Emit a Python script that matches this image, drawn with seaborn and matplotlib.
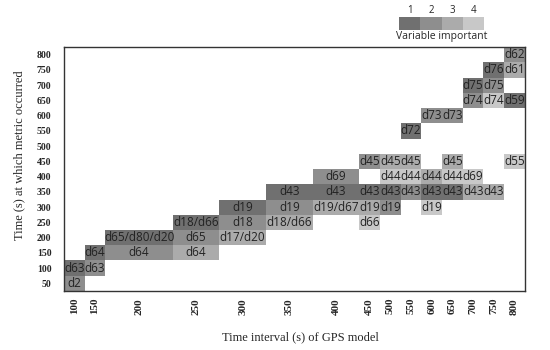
import numpy as np
import pandas as pd
import matplotlib
matplotlib.use('Agg')
import matplotlib.pyplot as plt
from matplotlib.colors import ListedColormap
from matplotlib.patches import Rectangle
import seaborn as sns

# GPS model time intervals (columns) and metric times (rows)
intervals = [100, 150, 200, 250, 300, 350, 400, 450, 500, 550, 600, 650, 700, 750, 800]
times = [50, 100, 150, 200, 250, 300, 350, 400, 450, 500, 550, 600, 650, 700, 750, 800]

# one entry per filled cell
cell_interval = [100, 100,
                 150, 150,
                 200, 200,
                 250, 250, 250,
                 300, 300, 300,
                 350, 350, 350,
                 400, 400, 400,
                 450, 450, 450, 450,
                 500, 500, 500, 500,
                 550, 550, 550, 550,
                 600, 600, 600, 600,
                 650, 650, 650, 650,
                 700, 700, 700, 700,
                 750, 750, 750, 750,
                 800, 800, 800, 800]
cell_time = [50, 100,
             100, 150,
             150, 200,
             150, 200, 250,
             200, 250, 300,
             250, 300, 350,
             300, 350, 400,
             250, 300, 350, 450,
             300, 350, 400, 450,
             350, 400, 450, 550,
             300, 350, 400, 600,
             350, 400, 450, 600,
             350, 400, 650, 700,
             350, 650, 700, 750,
             450, 650, 750, 800]
cell_label = ['d2', 'd63',
              'd63', 'd64',
              'd64', 'd65/d80/d20',
              'd64', 'd65', 'd18/d66',
              'd17/d20', 'd18', 'd19',
              'd18/d66', 'd19', 'd43',
              'd19/d67', 'd43', 'd69',
              'd66', 'd19', 'd43', 'd45',
              'd19', 'd43', 'd44', 'd45',
              'd43', 'd44', 'd45', 'd72',
              'd19', 'd43', 'd44', 'd73',
              'd43', 'd44', 'd45', 'd73',
              'd43', 'd69', 'd74', 'd75',
              'd43', 'd74', 'd75', 'd76',
              'd55', 'd59', 'd61', 'd62']
cell_rank = [2, 1,
             2, 1,
             2, 1,
             3, 2, 1,
             3, 2, 1,
             3, 2, 1,
             3, 1, 2,
             4, 3, 1, 2,
             2, 1, 4, 3,
             2, 4, 3, 1,
             4, 1, 3, 2,
             1, 4, 3, 2,
             3, 4, 2, 1,
             3, 4, 2, 1,
             4, 1, 3, 2]

level_colors = ['#707070', '#8e8e8e', '#ababab', '#c8c8c8']
# layout only: how many sub-cells wide each interval column is drawn
col_span = [4, 4, 13, 9, 9, 9, 9, 4, 4, 4, 4, 4, 4, 4, 4]

sns.set_style('white')
serif = ['Liberation Serif', 'DejaVu Serif']
sans = ['Open Sans', 'DejaVu Sans']

row_order = times[::-1]
grid = pd.DataFrame(np.nan, index=row_order, columns=intervals)
for xi, ti, r in zip(cell_interval, cell_time, cell_rank):
    grid.loc[ti, xi] = r
wide = pd.DataFrame(np.repeat(grid.values, col_span, axis=1), index=row_order)

cmap = ListedColormap(level_colors)

fig = plt.figure(figsize=(5.5, 3.5), dpi=100)
ax = fig.add_axes([0.1164, 0.1686, 0.838, 0.697])
sns.heatmap(wide, ax=ax, cmap=cmap, vmin=0.5, vmax=4.5, cbar=False,
            xticklabels=False, yticklabels=False)

span = np.array(col_span)
left = np.concatenate([[0], np.cumsum(span)[:-1]])
centers = left + span / 2

for xi, ti, lab in zip(cell_interval, cell_time, cell_label):
    j = intervals.index(xi)
    i = row_order.index(ti)
    t = ax.text(centers[j], i + 0.5, lab, ha='center', va='center',
                fontsize=8.5, family=sans, color='#222222')
    t.set_clip_path(Rectangle((left[j], i), span[j], 1, transform=ax.transData))

ax.set_xticks(centers)
ax.set_xticklabels(intervals, rotation=90, fontsize=8, fontweight='bold', family=serif)
ax.set_yticks(np.arange(len(row_order)) + 0.5)
ax.set_yticklabels(row_order, rotation=0, fontsize=7, fontweight='bold', family=serif)
ax.tick_params(length=0, pad=5)
ax.tick_params(axis='y', pad=9)

for s in ax.spines.values():
    s.set_visible(True)
    s.set_color('#333333')
    s.set_linewidth(1)

ax.set_xlabel('Time interval (s) of GPS model', fontsize=9, family=serif)
ax.set_ylabel('Time (s) at which metric occurred', fontsize=9, family=serif)
ax.xaxis.set_label_coords(0.512, -0.165)
ax.yaxis.set_label_coords(-0.085, 0.557)

# legend strip
lax = fig.add_axes([0.7255, 0.914, 0.1545, 0.037])
sns.heatmap(pd.DataFrame([[1, 2, 3, 4]]), ax=lax, cmap=cmap, vmin=0.5, vmax=4.5,
            cbar=False, xticklabels=[1, 2, 3, 4], yticklabels=False)
lax.xaxis.tick_top()
lax.tick_params(length=0, pad=1, labelsize=7)
for t in lax.get_xticklabels():
    t.set_family(sans)
lax.set_xlabel('Variable important', fontsize=7.5, family=sans, labelpad=1)

fig.savefig('out.png', dpi=100)
